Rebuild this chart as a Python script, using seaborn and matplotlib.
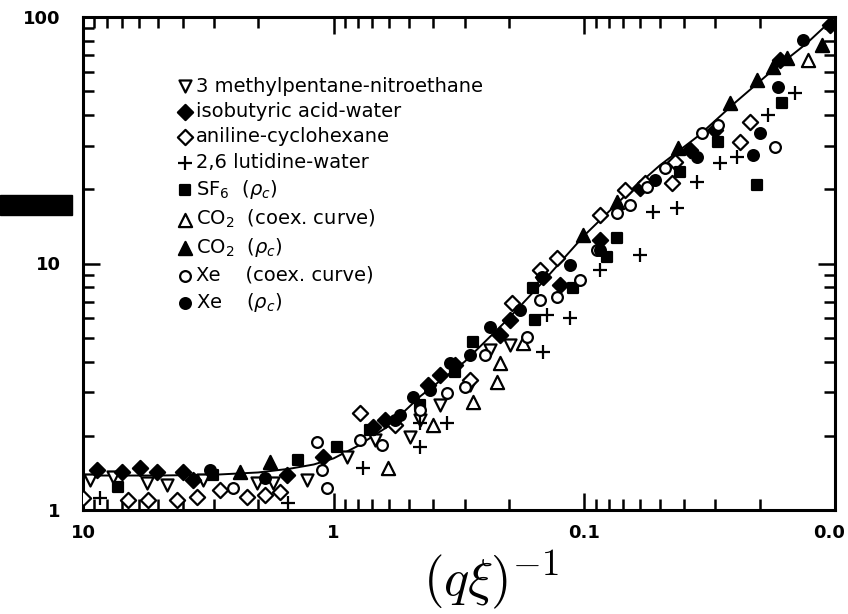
import numpy as np
import pandas as pd
import matplotlib
matplotlib.use("Agg")
import matplotlib.pyplot as plt
import matplotlib.transforms as mtransforms
from matplotlib.patches import Rectangle
import seaborn as sns

# values: x = (q xi)^-1, y = scaled decay rate
mpn_x = [9.38, 7.59, 5.56, 4.62, 3.32, 2.02, 1.75, 1.28, 0.885, 0.684, 0.497, 0.453, 0.377, 0.286, 0.238, 0.198]
mpn_y = [1.32, 1.36, 1.29, 1.26, 1.32, 1.29, 1.29, 1.32, 1.64, 1.92, 1.98, 2.32, 2.67, 3.21, 4.46, 4.67]

iba_x = [8.80, 6.99, 5.93, 5.07, 3.99, 3.64, 1.53, 1.10, 0.697, 0.624, 0.421, 0.377, 0.328, 0.217, 0.198,
         0.146, 0.125, 0.0867, 0.060, 0.0379, 0.0301, 0.0166, 0.0105]
iba_y = [1.45, 1.43, 1.48, 1.43, 1.43, 1.32, 1.39, 1.64, 2.17, 2.32, 3.21, 3.53, 3.87, 5.13, 5.90,
         8.81, 8.18, 12.5, 20.2, 28.9, 34.8, 66.9, 92.8]

ach_x = [10.0, 6.61, 5.51, 4.22, 3.51, 2.84, 2.22, 1.88, 1.64, 0.785, 0.569, 0.286, 0.195, 0.150, 0.129,
         0.0867, 0.0689, 0.0573, 0.0435, 0.0448, 0.0239, 0.0218]
ach_y = [1.12, 1.10, 1.10, 1.10, 1.13, 1.21, 1.13, 1.15, 1.18, 2.47, 2.21, 3.37, 6.92, 9.41, 10.5,
         15.7, 19.9, 21.2, 25.8, 21.2, 31.1, 37.5]

lut_x = [8.55, 1.52, 0.764, 0.453, 0.353, 0.453, 0.146, 0.141, 0.114, 0.0867, 0.060, 0.0532, 0.0428,
         0.0356, 0.0288, 0.0246, 0.0185, 0.0145]
lut_y = [1.12, 1.07, 1.48, 2.25, 2.25, 1.80, 4.38, 6.18, 6.01, 9.41, 10.8, 16.2, 16.8,
         21.4, 25.6, 27.0, 40.0, 49.2]

sf6_x = [7.25, 3.03, 1.39, 0.970, 0.716, 0.453, 0.328, 0.278, 0.160, 0.157, 0.111, 0.0813, 0.0741,
         0.0416, 0.0293, 0.0205, 0.0163]
sf6_y = [1.24, 1.39, 1.60, 1.80, 2.11, 2.67, 3.63, 4.80, 7.96, 5.90, 7.96, 10.6, 12.7,
         23.5, 31.1, 20.8, 44.8]

co2c_x = [0.607, 0.402, 0.278, 0.223, 0.217, 0.176, 0.0128]
co2c_y = [1.48, 2.21, 2.74, 3.31, 3.95, 4.76, 66.9]

co2r_x = [2.37, 1.79, 0.101, 0.0741, 0.0424, 0.0262, 0.0205, 0.0177, 0.0156, 0.0113]
co2r_y = [1.43, 1.57, 13.0, 17.8, 29.4, 44.8, 55.5, 62.7, 68.2, 77.0]

xec_x = [2.52, 1.06, 1.17, 1.11, 0.785, 0.641, 0.453, 0.353, 0.299, 0.249, 0.169, 0.150, 0.129, 0.104,
         0.0891, 0.0741, 0.0658, 0.0562, 0.0477, 0.0340, 0.0293, 0.0174]
xec_y = [1.23, 1.23, 1.89, 1.45, 1.92, 1.84, 2.54, 2.98, 3.15, 4.25, 5.03, 7.11, 7.31, 8.57,
         11.3, 16.0, 17.3, 20.4, 24.4, 33.8, 36.5, 29.7]

xer_x = [3.11, 1.88, 0.569, 0.544, 0.483, 0.413, 0.344, 0.286, 0.238, 0.181, 0.148, 0.114, 0.0867,
         0.0522, 0.0356, 0.0212, 0.0199, 0.0169, 0.0134]
xer_y = [1.45, 1.35, 2.32, 2.43, 2.87, 3.07, 3.95, 4.25, 5.53, 6.48, 8.81, 9.86, 11.3,
         21.8, 27.0, 27.6, 33.8, 52.0, 80.7]

# solid reference curve
curve_x = [10, 5, 3, 2, 1.5, 1.2, 1.0, 0.8, 0.6, 0.45, 0.3, 0.2, 0.15, 0.1, 0.07, 0.05, 0.035, 0.025, 0.018, 0.013, 0.01]
curve_y = [1.38, 1.38, 1.39, 1.42, 1.47, 1.53, 1.62, 1.82, 2.2, 2.9, 4.0, 6.0, 8.2, 13, 18.5, 25, 33, 45, 60, 78, 100]

x_ticks = [10, 1, 0.1, 0.01]
x_ticklabels = ["10", "1", "0.1", "0.0"]
y_ticks = [1, 10, 100]
y_ticklabels = ["1", "10", "100"]

labels = [
    "3 methylpentane-nitroethane",
    "isobutyric acid-water",
    "aniline-cyclohexane",
    "2,6 lutidine-water",
    r"SF$_6$  ($\rho_c$)",
    r"CO$_2$  (coex. curve)",
    r"CO$_2$  ($\rho_c$)",
    "Xe    (coex. curve)",
    r"Xe    ($\rho_c$)",
]

sns.set_style("ticks")
plt.rcParams["font.family"] = ["DejaVu Sans"]
plt.rcParams["mathtext.fontset"] = "dejavusans"
plt.rcParams["text.color"] = "black"
plt.rcParams["xtick.color"] = "black"
plt.rcParams["ytick.color"] = "black"
plt.rcParams["xtick.labelcolor"] = "black"
plt.rcParams["ytick.labelcolor"] = "black"

fig = plt.figure(figsize=(8.48, 6.14), dpi=100)
ax = fig.add_axes([83 / 848, 1 - 510 / 614, 752 / 848, 493 / 614])

sns.lineplot(x=curve_x, y=curve_y, ax=ax, color="black", lw=1.4, estimator=None, sort=False)

series = [
    (mpn_x, mpn_y, "v", "white", 75),
    (iba_x, iba_y, "D", "black", 60),
    (ach_x, ach_y, "D", "white", 60),
    (lut_x, lut_y, "+", "black", 95),
    (sf6_x, sf6_y, "s", "black", 60),
    (co2c_x, co2c_y, "^", "white", 90),
    (co2r_x, co2r_y, "^", "black", 90),
    (xec_x, xec_y, "o", "white", 60),
    (xer_x, xer_y, "o", "black", 60),
]
for (xs, ys, mk, fc, sz), lab in zip(series, labels):
    sns.scatterplot(x=xs, y=ys, ax=ax, marker=mk, s=sz, facecolor=fc,
                    edgecolor="black", color="black", linewidth=1.6, label=lab, zorder=3)

ax.set_xscale("log")
ax.set_yscale("log")
ax.set_xlim(10, 0.01)
ax.set_ylim(1, 100)

ax.set_xticks(x_ticks)
ax.set_xticklabels(x_ticklabels)
ax.set_yticks(y_ticks)
ax.set_yticklabels(y_ticklabels)
ax.tick_params(which="both", direction="in", top=True, right=True, width=1.8, labelsize=13)
ax.tick_params(which="major", length=12)
ax.tick_params(axis="y", which="major", pad=16)
ax.tick_params(axis="x", which="major", pad=10)
ax.tick_params(which="minor", length=8)
for sp in ax.spines.values():
    sp.set_linewidth(2.2)
    sp.set_visible(True)
    sp.set_color("black")
for t in ax.get_xticklabels() + ax.get_yticklabels():
    t.set_fontweight("bold")

# last x label sits flush with the right edge of the scan
last = ax.get_xticklabels()[-1]
last.set_horizontalalignment("right")
last.set_transform(last.get_transform() + mtransforms.ScaledTranslation(0.1, 0, fig.dpi_scale_trans))

ax.set_xlabel("")
ax.set_ylabel("")

# legend without frame, handles close to text
h, l = ax.get_legend_handles_labels()
h = [x for x, lab in zip(h, l) if lab in labels]
leg = ax.legend(h, labels, loc="upper left", bbox_to_anchor=(0.115, 0.895), frameon=False,
                fontsize=14, handletextpad=0.15, labelspacing=0.33, handlelength=0.8,
                borderaxespad=0)
for t in leg.get_texts():
    t.set_color("black")

fig.text(491 / 848, 1 - 596 / 614, r"$(q\xi)^{-1}$", fontsize=38, ha="center", va="baseline",
         math_fontfamily="cm", color="black")

# black bar on left edge of the scan
fig.patches.append(Rectangle((0, 1 - 215 / 614), 72 / 848, 20 / 614,
                             transform=fig.transFigure, color="black", zorder=5))

fig.savefig("out.png", dpi=100)
